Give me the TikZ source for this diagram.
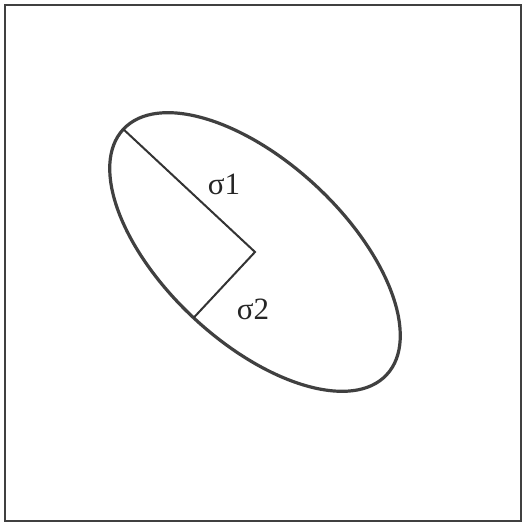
\documentclass[tikz,border=0pt]{standalone}
\usepackage{fontspec}
\setmainfont{Liberation Serif}
\usepackage{tikz}
\usetikzlibrary{calc}

\begin{document}
\begin{tikzpicture}[x=1pt, y=1pt]

  \useasboundingbox (0,0) rectangle (523,524);

  % Outer frame
  \draw[line width=2.4pt, black!75] (5,3) rectangle (521,519);

  % Centre and the ends of the two semi-axes
  \coordinate (c) at (255,272);
  \coordinate (major) at ($(c)+(137:180)$);
  \coordinate (minor) at ($(c)+(227:90)$);

  % The ellipse
  \draw[line width=3.2pt, black!75, rotate around={137:(c)}]
    (c) ellipse (180 and 90);

  % Semi-axes
  \draw[line width=2pt, black!80] (major) -- (c) -- (minor);

  \node[font=\fontsize{31}{36}\selectfont, black!85] (s1) at (224,340) {σ1};
  \node[font=\fontsize{31}{36}\selectfont, black!85] (s2) at (253,215) {σ2};

\end{tikzpicture}
\end{document}
